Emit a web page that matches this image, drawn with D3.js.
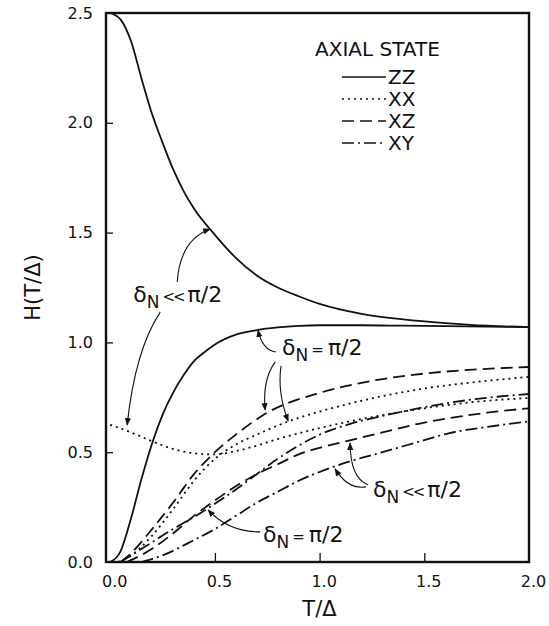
<!DOCTYPE html>
<html><head><meta charset="utf-8">
<script src="https://cdn.jsdelivr.net/npm/d3@7"></script>
<style>body{margin:0;background:#fff}svg{display:block}</style>
</head><body>
<script>
// ---- data ----
const xTicks = [0, 0.5, 1.0, 1.5, 2.0];
const yTicks = [0, 0.5, 1.0, 1.5, 2.0, 2.5];
const legendLabels = ["ZZ", "XX", "XZ", "XY"];

const zzSmallT = [0,0.05,0.1,0.15,0.2,0.25,0.3,0.35,0.4,0.5,0.6,0.7,0.8,0.9,1.0,1.2,1.4,1.6,1.8,2.0];
const zzSmallH = [2.5,2.47,2.37,2.2,2.04,1.91,1.79,1.69,1.61,1.49,1.385,1.305,1.25,1.21,1.175,1.13,1.105,1.088,1.076,1.07];
const zzHalfT = [0,0.05,0.1,0.15,0.2,0.25,0.3,0.35,0.4,0.45,0.5,0.6,0.7,0.8,0.9,1.0,1.2,1.4,1.6,1.8,2.0];
const zzHalfH = [0,0.05,0.2,0.38,0.54,0.67,0.77,0.85,0.915,0.955,0.99,1.035,1.056,1.068,1.075,1.078,1.078,1.076,1.074,1.072,1.07];
const xxSmallT = [0,0.1,0.2,0.3,0.4,0.5,0.6,0.7,0.8,1.0,1.25,1.5,1.75,2.0];
const xxSmallH = [0.625,0.59,0.55,0.515,0.495,0.49,0.505,0.53,0.56,0.61,0.66,0.70,0.73,0.747];
const xxHalfT = [0.04,0.1,0.2,0.3,0.4,0.5,0.6,0.7,0.85,1.0,1.25,1.5,1.75,2.0];
const xxHalfH = [0,0.03,0.12,0.24,0.37,0.47,0.535,0.58,0.64,0.685,0.745,0.79,0.82,0.843];
const xzSmallT = [0.08,0.2,0.3,0.4,0.5,0.6,0.7,0.8,0.9,1.0,1.15,1.3,1.5,1.62,1.8,2.0];
const xzSmallH = [0,0.06,0.13,0.21,0.28,0.345,0.40,0.445,0.49,0.52,0.555,0.59,0.635,0.655,0.68,0.70];
const xzHalfT = [0.05,0.1,0.2,0.3,0.4,0.5,0.6,0.75,1.0,1.25,1.5,1.75,2.0];
const xzHalfH = [0,0.04,0.15,0.27,0.40,0.50,0.58,0.68,0.77,0.825,0.858,0.877,0.888];
const xySmallT = [0.15,0.25,0.4,0.5,0.6,0.7,0.8,0.9,1.0,1.15,1.3,1.5,1.62,1.8,2.0];
const xySmallH = [0,0.03,0.10,0.15,0.21,0.27,0.32,0.37,0.41,0.46,0.50,0.555,0.587,0.615,0.64];
const xyHalfT = [0.05,0.1,0.2,0.3,0.4,0.5,0.6,0.7,0.8,0.9,1.0,1.15,1.3,1.5,1.62,1.8,2.0];
const xyHalfH = [0,0.03,0.09,0.15,0.205,0.265,0.33,0.40,0.47,0.53,0.58,0.63,0.665,0.705,0.725,0.748,0.765];

const W = 549, H = 626;
const L = 106, R = 529, TOP = 13, BOT = 562;
const FONT = "'DejaVu Sans', sans-serif";

const dash = {ZZ: null, XX: "2,4", XZ: "12,6", XY: "12,4,2,4"};

const svg = d3.select("body").append("svg").attr("width", W).attr("height", H);
const x = d3.scaleLinear().domain([-0.02, 2.0]).range([L, R]);
const y = d3.scaleLinear().domain([0, 2.5]).range([BOT, TOP]);

// axes
const xAxis = d3.axisBottom(x).tickValues(xTicks).tickSizeInner(-9).tickSizeOuter(0).tickPadding(14)
  .tickFormat(d3.format(".1f"));
const gx = svg.append("g").attr("transform", `translate(0,${BOT})`).call(xAxis);
gx.select(".domain").remove();
gx.selectAll(".tick").filter(d => d === 0 || d === 2).select("line").remove();
gx.selectAll("text").attr("dx", 4).style("font-family", FONT).style("font-size", "16px").attr("fill", "#111");
gx.selectAll("line").attr("stroke", "#111").attr("stroke-width", 1.3);

const yAxis = d3.axisLeft(y).tickValues(yTicks).tickSizeInner(-7).tickSizeOuter(0).tickPadding(13)
  .tickFormat(d3.format(".1f"));
const gy = svg.append("g").attr("transform", `translate(${L},0)`).call(yAxis);
gy.select(".domain").remove();
gy.selectAll(".tick").filter(d => d === 0 || d === 2.5).select("line").remove();
gy.selectAll("text").style("font-family", FONT).style("font-size", "16px").attr("fill", "#111");
gy.selectAll("line").attr("stroke", "#111").attr("stroke-width", 1.3);

// frame
svg.append("rect").attr("x", L).attr("y", TOP).attr("width", R - L).attr("height", BOT - TOP)
  .attr("fill", "none").attr("stroke", "#111").attr("stroke-width", 2.4);

// axis titles
svg.append("text").attr("transform", `translate(34,${(TOP+BOT)/2}) rotate(-90)`)
  .attr("text-anchor", "middle").attr("dominant-baseline", "middle")
  .style("font-family", FONT).style("font-size", "21px").attr("fill", "#111").text("H(T/Δ)");
svg.append("text").attr("x", (L+R)/2 + 2).attr("y", 616).attr("text-anchor", "middle")
  .style("font-family", FONT).style("font-size", "21px").attr("fill", "#111").text("T/Δ");

// curves
const line = d3.line().x(d => x(d[0])).y(d => y(d[1])).curve(d3.curveMonotoneX);
const series = [
  {k: "ZZ", t: zzSmallT, h: zzSmallH},
  {k: "ZZ", t: zzHalfT, h: zzHalfH},
  {k: "XX", t: xxSmallT, h: xxSmallH},
  {k: "XX", t: xxHalfT, h: xxHalfH},
  {k: "XZ", t: xzSmallT, h: xzSmallH},
  {k: "XZ", t: xzHalfT, h: xzHalfH},
  {k: "XY", t: xySmallT, h: xySmallH},
  {k: "XY", t: xyHalfT, h: xyHalfH},
];
series.forEach(s => {
  svg.append("path").datum(s.t.map((t, i) => [t, s.h[i]]))
    .attr("d", line).attr("fill", "none").attr("stroke", "#111")
    .attr("stroke-width", 1.8).attr("stroke-dasharray", dash[s.k]);
});

// legend
svg.append("text").attr("x", 315).attr("y", 56).style("font-family", FONT).style("font-size", "20px")
  .attr("fill", "#111").text("AXIAL STATE");
legendLabels.forEach((lab, i) => {
  const yy = 77 + i * 22;
  svg.append("line").attr("x1", 342).attr("x2", 386).attr("y1", yy).attr("y2", yy)
    .attr("stroke", "#111").attr("stroke-width", 1.6).attr("stroke-dasharray", dash[lab]);
  svg.append("text").attr("x", 388).attr("y", yy + 7).style("font-family", FONT).style("font-size", "20px")
    .attr("fill", "#111").text(lab);
});

// annotations
svg.append("defs").append("marker").attr("id", "ah").attr("viewBox", "0 0 10 10")
  .attr("refX", 9).attr("refY", 5).attr("markerWidth", 7).attr("markerHeight", 7)
  .attr("orient", "auto").append("path").attr("d", "M0,1 L10,5 L0,9 z").attr("fill", "#111");

const arrows = [
  [[0.32,1.275],[0.334,1.466],[0.477,1.516]],
  [[0.239,1.138],[0.119,0.965],[0.081,0.624]],
  [[0.792,0.956],[0.726,0.965],[0.706,1.056]],
  [[0.788,0.911],[0.726,0.829],[0.74,0.692]],
  [[0.816,0.893],[0.797,0.774],[0.85,0.642]],
  [[1.232,0.351],[1.146,0.383],[1.146,0.542]],
  [[1.222,0.342],[1.136,0.328],[1.074,0.424]],
  [[0.716,0.137],[0.563,0.137],[0.468,0.237]],
];
arrows.forEach(a => {
  const p = d3.path();
  p.moveTo(x(a[0][0]), y(a[0][1]));
  p.quadraticCurveTo(x(a[1][0]), y(a[1][1]), x(a[2][0]), y(a[2][1]));
  svg.append("path").attr("d", p.toString()).attr("fill", "none").attr("stroke", "#111")
    .attr("stroke-width", 1.1).attr("marker-end", "url(#ah)");
});

const labels = [
  {t: 0.11, h: 1.184, rel: "<<"},
  {t: 0.821, h: 0.943, rel: "="},
  {t: 1.255, h: 0.296, rel: "<<"},
  {t: 0.73, h: 0.091, rel: "="},
];
labels.forEach(l => {
  const tx = svg.append("text").attr("x", x(l.t)).attr("y", y(l.h))
    .style("font-family", FONT).style("font-size", "22px").attr("fill", "#111");
  tx.append("tspan").text("δ");
  tx.append("tspan").attr("dy", 6).style("font-size", "17px").text("N");
  const rel = tx.append("tspan").attr("dy", -6).attr("dx", 3);
  if (l.rel === "<<") rel.style("font-size", "15px").style("letter-spacing", "-2px").text("<<");
  else rel.style("font-size", "15px").text("=");
  tx.append("tspan").attr("dx", 4).text("π/2");
});
</script>
</body></html>
